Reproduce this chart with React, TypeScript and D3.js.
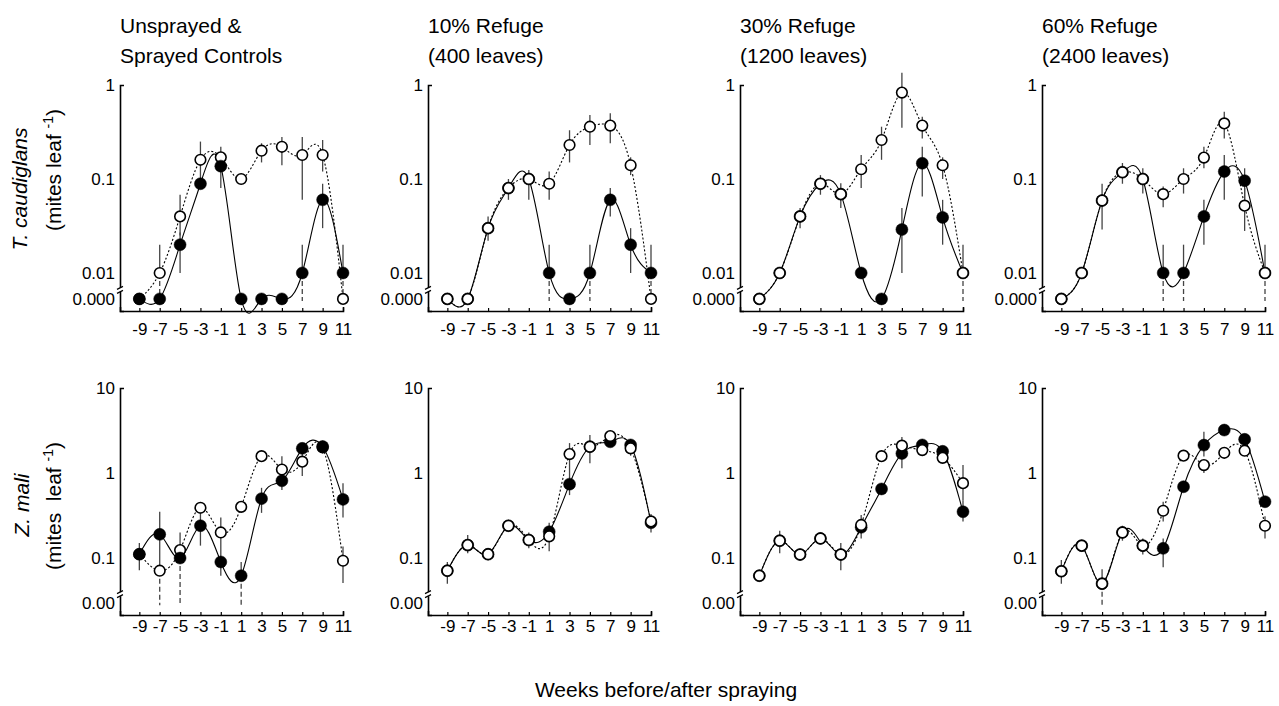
import React, { useEffect, useRef } from "react";
import * as d3 from "d3";

const WEEKS = [-9, -7, -5, -3, -1, 1, 3, 5, 7, 9, 11];

const PANEL_TITLES = [
  ["Unsprayed &", "Sprayed Controls"],
  ["10% Refuge", "(400 leaves)"],
  ["30% Refuge", "(1200 leaves)"],
  ["60% Refuge", "(2400 leaves)"],
];

// T. caudiglans – unsprayed (open circles), 0 = below detection
const TC_OPEN = [
  [0, 0.01, 0.04, 0.16, 0.17, 0.1, 0.2, 0.22, 0.18, 0.18, 0],
  [0, 0, 0.03, 0.08, 0.1, 0.089, 0.23, 0.36, 0.37, 0.14, 0],
  [0, 0.01, 0.04, 0.089, 0.069, 0.127, 0.26, 0.83, 0.37, 0.14, 0.01],
  [0, 0.01, 0.059, 0.118, 0.1, 0.069, 0.1, 0.169, 0.39, 0.052, 0.01],
];
const TC_OPEN_HI = [
  [null, 0.02, 0.068, 0.25, 0.22, null, 0.24, 0.28, 0.28, 0.26, null],
  [null, null, 0.04, 0.1, 0.125, 0.12, 0.33, 0.48, 0.5, 0.17, null],
  [null, null, 0.049, 0.11, 0.09, 0.18, 0.36, 1.35, 0.46, 0.17, 0.02],
  [null, null, 0.089, 0.148, 0.13, 0.083, 0.13, 0.22, 0.52, 0.08, 0.02],
];
const TC_OPEN_LO = [
  [null, 0, 0.025, 0.1, 0.08, null, 0.15, 0.14, 0.06, 0.12, null],
  [null, null, 0.022, 0.06, 0.06, 0.06, 0.15, 0.23, 0.24, 0.11, null],
  [null, null, 0.03, 0.068, 0.049, 0.08, 0.16, 0.35, 0.27, 0.1, 0],
  [null, null, 0.029, 0.089, 0.07, 0.05, 0.07, 0.13, 0.27, 0.028, 0],
];

// T. caudiglans – sprayed (filled circles)
const TC_FILLED = [
  [0, 0, 0.02, 0.089, 0.137, 0, 0, 0, 0.01, 0.06, 0.01],
  [0, 0, 0.03, 0.08, 0.1, 0.01, 0, 0.01, 0.06, 0.02, 0.01],
  [0, 0.01, 0.04, 0.089, 0.069, 0.01, 0, 0.029, 0.147, 0.039, 0.01],
  [0, 0.01, 0.059, 0.118, 0.1, 0.01, 0.01, 0.04, 0.12, 0.096, 0.01],
];
const TC_FILLED_HI = [
  [null, null, 0.027, null, null, null, null, null, 0.02, 0.089, 0.02],
  [null, null, null, null, null, 0.02, null, 0.02, 0.08, 0.03, 0.02],
  [null, null, null, null, null, null, null, 0.049, 0.22, 0.06, null],
  [null, null, null, null, null, 0.02, 0.02, 0.06, 0.18, 0.13, null],
];
const TC_FILLED_LO = [
  [null, null, 0.01, null, null, null, null, null, 0, 0.03, 0],
  [null, null, null, null, null, 0, null, 0, 0.04, 0.01, 0],
  [null, null, null, null, null, null, null, 0.01, 0.065, 0.02, null],
  [null, null, null, null, null, 0, 0, 0.02, 0.06, 0.06, null],
];

// Z. mali – unsprayed (open circles)
const ZM_OPEN = [
  [0.111, 0.071, 0.124, 0.39, 0.2, 0.4, 1.58, 1.1, 1.36, 2.0, 0.093],
  [0.071, 0.142, 0.111, 0.24, 0.163, 0.18, 1.67, 2.04, 2.72, 1.95, 0.27],
  [0.062, 0.16, 0.11, 0.17, 0.11, 0.245, 1.58, 2.1, 1.86, 1.51, 0.76],
  [0.07, 0.14, 0.05, 0.2, 0.14, 0.36, 1.6, 1.24, 1.73, 1.83, 0.24],
];
const ZM_OPEN_HI = [
  [null, null, null, null, null, null, null, null, 1.78, null, 0.137],
  [0.09, 0.187, 0.125, null, 0.2, 0.26, 2.25, 2.8, null, 2.5, 0.33],
  [null, 0.21, null, null, 0.15, 0.32, null, 2.66, 2.5, null, 1.24],
  [0.095, 0.16, 0.074, 0.24, 0.17, 0.46, null, null, null, null, 0.31],
];
const ZM_OPEN_LO = [
  [null, 0, null, null, null, null, null, null, 0.92, null, 0.051],
  [0.05, 0.114, 0.1, null, 0.13, 0.12, 0.55, 1.3, null, 1.6, 0.2],
  [null, 0.114, null, null, 0.072, 0.17, null, 1.14, 1.6, null, 0.48],
  [0.05, 0.12, 0, 0.16, 0.11, 0.27, null, 1.0, null, null, 0.17],
];

// Z. mali – sprayed (filled circles)
const ZM_FILLED = [
  [0.111, 0.19, 0.1, 0.24, 0.09, 0.062, 0.5, 0.81, 1.95, 2.05, 0.49],
  [0.071, 0.142, 0.111, 0.24, 0.163, 0.204, 0.74, 2.04, 2.33, 2.14, 0.26],
  [0.062, 0.16, 0.11, 0.17, 0.11, 0.23, 0.65, 1.7, 2.14, 1.8, 0.35],
  [0.07, 0.14, 0.05, 0.2, 0.14, 0.13, 0.69, 2.13, 3.2, 2.49, 0.46],
];
const ZM_FILLED_HI = [
  [0.15, 0.35, 0.2, 0.33, 0.3, 0.09, 0.67, 1.58, null, 2.4, 0.76],
  [null, null, null, null, null, null, null, null, null, null, null],
  [null, null, null, null, null, null, null, null, null, null, 0.48],
  [null, null, null, null, null, 0.17, null, 3.06, null, null, null],
];
const ZM_FILLED_LO = [
  [0.072, 0.071, 0, 0.14, 0.062, 0, 0.34, 0.63, null, 1.7, 0.3],
  [null, null, null, null, null, null, null, null, null, null, null],
  [null, null, null, null, null, null, null, null, null, null, 0.27],
  [null, null, null, null, null, 0.078, null, 1.56, null, null, null],
];

const TC_TICKS = [1, 0.1, 0.01, 0.0053];
const TC_TICK_LABELS = ["1", "0.1", "0.01", "0.000"];
const ZM_TICKS = [10, 1, 0.1, 0.0295];
const ZM_TICK_LABELS = ["10", "1", "0.1", "0.00"];

const FONT = "'Liberation Sans', Arial, Helvetica, sans-serif";
const WIDTH = 1279;
const HEIGHT = 706;
const PANEL_LEFT = [120, 428, 740, 1042];
const PANEL_WIDTH = 223;

const App: React.FC = () => {
  const svgRef = useRef<SVGSVGElement>(null);

  useEffect(() => {
    document.body.style.margin = "0";
    if (!svgRef.current) return;
    const svg = d3.select(svgRef.current);
    svg.selectAll("*").remove();

    const rows = [
      {
        top: 85,
        height: 226,
        domain: [1, 0.00394],
        ticks: TC_TICKS,
        labels: TC_TICK_LABELS,
        xPad: 12,
        open: TC_OPEN,
        openHi: TC_OPEN_HI,
        openLo: TC_OPEN_LO,
        filled: TC_FILLED,
        filledHi: TC_FILLED_HI,
        filledLo: TC_FILLED_LO,
      },
      {
        top: 388,
        height: 227,
        domain: [10, 0.0214],
        ticks: ZM_TICKS,
        labels: ZM_TICK_LABELS,
        xPad: 5,
        open: ZM_OPEN,
        openHi: ZM_OPEN_HI,
        openLo: ZM_OPEN_LO,
        filled: ZM_FILLED,
        filledHi: ZM_FILLED_HI,
        filledLo: ZM_FILLED_LO,
      },
    ];

    const x = d3.scaleLinear().domain([-10.9, 11]).range([0, PANEL_WIDTH]);

    // Panel titles
    PANEL_TITLES.forEach((lines, p) => {
      lines.forEach((t, j) => {
        svg
          .append("text")
          .attr("x", PANEL_LEFT[p])
          .attr("y", 33 + j * 30)
          .attr("font-family", FONT)
          .attr("font-size", "21px")
          .attr("fill", "#000")
          .text(t);
      });
    });

    rows.forEach((row) => {
      const y = d3.scaleLog().domain(row.domain).range([0, row.height]);
      const zero = row.ticks[row.ticks.length - 1];
      const yv = (v: number) => y(v === 0 ? zero : v);

      PANEL_LEFT.forEach((left, p) => {
        const g = svg
          .append("g")
          .attr("transform", `translate(${left},${row.top})`);

        // Axes
        const xAxis = g
          .append("g")
          .attr("transform", `translate(0,${row.height})`)
          .call(
            d3
              .axisBottom(x)
              .tickValues(WEEKS)
              .tickSizeInner(-3)
              .tickSizeOuter(-4)
              .tickPadding(row.xPad)
              .tickFormat((d) => String(d))
          );
        xAxis.selectAll("path").attr("stroke", "#000").attr("stroke-width", 1.6);
        xAxis.selectAll("line").attr("stroke", "#000").attr("stroke-width", 1.2);
        xAxis
          .selectAll("text")
          .attr("fill", "#000")
          .attr("font-family", FONT)
          .attr("font-size", "17px");

        const yAxis = g.append("g").call(
          d3
            .axisLeft(y)
            .tickValues(row.ticks)
            .tickSizeInner(0)
            .tickSizeOuter(-4)
            .tickPadding(5)
            .tickFormat((d, i) => row.labels[i])
        );
        yAxis.selectAll("path").attr("stroke", "#000").attr("stroke-width", 1.6);
        yAxis
          .selectAll("text")
          .attr("fill", "#000")
          .attr("font-family", FONT)
          .attr("font-size", "17px");

        // Axis break
        const by = y(zero) - 9;
        g.append("rect")
          .attr("x", -3)
          .attr("y", by - 2)
          .attr("width", 6)
          .attr("height", 4)
          .attr("fill", "#fff");
        [-2, 2].forEach((o) => {
          g.append("line")
            .attr("x1", -3)
            .attr("y1", by + o + 1.5)
            .attr("x2", 3)
            .attr("y2", by + o - 1.5)
            .attr("stroke", "#000")
            .attr("stroke-width", 1.2);
        });

        const series = [
          { vals: row.open[p], hi: row.openHi[p], lo: row.openLo[p], open: true },
          { vals: row.filled[p], hi: row.filledHi[p], lo: row.filledLo[p], open: false },
        ];

        // Curves
        const line = d3
          .line<number>()
          .x((_, i) => x(WEEKS[i]))
          .y((d) => yv(d))
          .curve(d3.curveNatural);

        series.forEach((s) => {
          g.append("path")
            .attr("d", line(s.vals) || "")
            .attr("fill", "none")
            .attr("stroke", "#000")
            .attr("stroke-width", 1.1)
            .attr("stroke-dasharray", s.open ? "2,2" : null);
        });

        // Error bars
        series.forEach((s) => {
          s.vals.forEach((v, i) => {
            const hi = s.hi[i];
            const lo = s.lo[i];
            const cx = x(WEEKS[i]);
            if (hi != null) {
              g.append("line")
                .attr("x1", cx)
                .attr("x2", cx)
                .attr("y1", yv(v))
                .attr("y2", y(hi))
                .attr("stroke", "#444")
                .attr("stroke-width", 1.3);
            }
            if (lo != null) {
              g.append("line")
                .attr("x1", cx)
                .attr("x2", cx)
                .attr("y1", yv(v))
                .attr("y2", lo === 0 ? y(zero) + 2 : y(lo))
                .attr("stroke", "#444")
                .attr("stroke-width", 1.3)
                .attr("stroke-dasharray", lo === 0 ? "5,3" : null);
            }
          });
        });

        // Points: filled on top in the control panel, open on top elsewhere
        const order = p === 0 ? [series[0], series[1]] : [series[1], series[0]];
        order.forEach((s) => {
          g.selectAll(null)
            .data(s.vals)
            .enter()
            .append("circle")
            .attr("cx", (_, i) => x(WEEKS[i]))
            .attr("cy", (d) => yv(d))
            .attr("r", s.open ? 5.3 : 6)
            .attr("fill", s.open ? "#fff" : "#000")
            .attr("stroke", "#000")
            .attr("stroke-width", s.open ? 1.6 : 0.5);
        });
      });
    });

    // Y labels
    const yLabel = (
      species: string,
      cy: number,
      unitsCy: number,
      speciesX: number,
      unitsText: string
    ) => {
      svg
        .append("text")
        .attr("transform", `translate(${speciesX},${cy}) rotate(-90)`)
        .attr("text-anchor", "middle")
        .attr("font-family", FONT)
        .attr("font-size", "21px")
        .attr("font-style", "italic")
        .text(species);
      const t = svg
        .append("text")
        .attr("transform", `translate(61,${unitsCy}) rotate(-90)`)
        .attr("text-anchor", "middle")
        .attr("font-family", FONT)
        .attr("font-size", "21px")
        .attr("xml:space", "preserve");
      t.append("tspan").text(unitsText);
      t.append("tspan").attr("font-size", "14px").attr("dy", -8).text("-1");
      t.append("tspan").attr("dy", 8).text(")");
    };
    yLabel("T. caudiglans", 189, 170, 27, "(mites leaf ");
    yLabel("Z. mali", 505, 506, 29, "(mites  leaf ");

    svg
      .append("text")
      .attr("x", 666)
      .attr("y", 697)
      .attr("text-anchor", "middle")
      .attr("font-family", FONT)
      .attr("font-size", "21px")
      .text("Weeks before/after spraying");
  }, []);

  return (
    <svg
      ref={svgRef}
      width={WIDTH}
      height={HEIGHT}
      style={{ display: "block", background: "#fff" }}
    />
  );
};

export default App;
